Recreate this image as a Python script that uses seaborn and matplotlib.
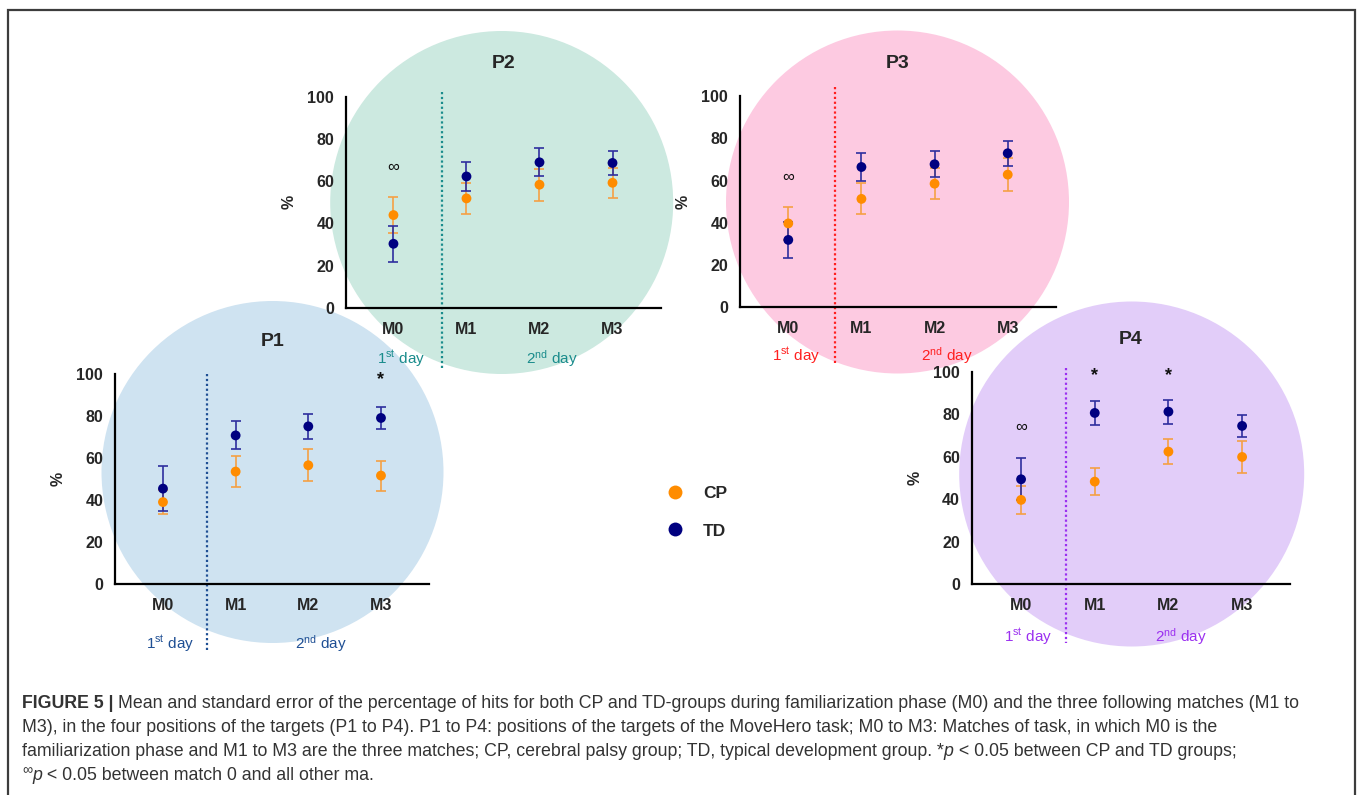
import numpy as np
import pandas as pd
import matplotlib
matplotlib.use("Agg")
import matplotlib.pyplot as plt
import seaborn as sns
from matplotlib.patches import Circle, Rectangle
from matplotlib.lines import Line2D

# ---------------- data ----------------
matches = ["M0", "M1", "M2", "M3"]
groups = ["CP", "TD"]

p1_cp_mean = [39.1, 53.6, 56.6, 51.7]
p1_cp_se = [5.8, 7.4, 7.5, 7.1]
p1_td_mean = [45.5, 70.8, 75.1, 79.1]
p1_td_se = [10.8, 6.7, 5.8, 5.2]

p2_cp_mean = [43.9, 51.8, 58.3, 59.2]
p2_cp_se = [8.5, 7.4, 7.6, 7.0]
p2_td_mean = [30.3, 62.2, 68.9, 68.6]
p2_td_se = [8.5, 6.7, 6.6, 5.8]

p3_cp_mean = [39.7, 51.3, 58.5, 62.8]
p3_cp_se = [8.0, 7.3, 7.3, 7.9]
p3_td_mean = [31.9, 66.4, 67.7, 72.9]
p3_td_se = [8.6, 6.8, 6.2, 6.0]

p4_cp_mean = [39.7, 48.3, 62.4, 59.9]
p4_cp_se = [6.7, 6.5, 6.0, 7.5]
p4_td_mean = [49.4, 80.6, 81.2, 74.5]
p4_td_se = [9.8, 5.7, 5.7, 5.3]

# significance marks: (panel, match, y)
inf_marks = [("P2", "M0", 66.4), ("P3", "M0", 61.7), ("P4", "M0", 73.7)]
star_marks = [("P1", "M3", 98.6), ("P4", "M1", 99.5), ("P4", "M2", 99.5)]

yticks = [0, 20, 40, 60, 80, 100]

caption_lines = [
    [("FIGURE 5 | ", "bold", "normal", 0),
     ("Mean and standard error of the percentage of hits for both CP and TD-groups during familiarization phase (M0) and the three following matches (M1 to", "normal", "normal", 0)],
    [("M3), in the four positions of the targets (P1 to P4). P1 to P4: positions of the targets of the MoveHero task; M0 to M3: Matches of task, in which M0 is the", "normal", "normal", 0)],
    [("familiarization phase and M1 to M3 are the three matches; CP, cerebral palsy group; TD, typical development group. *", "normal", "normal", 0),
     ("p", "normal", "italic", 0),
     (" < 0.05 between CP and TD groups;", "normal", "normal", 0)],
    [("\u221e", "normal", "normal", 1),
     ("p", "normal", "italic", 0),
     (" < 0.05 between match 0 and all other ma.", "normal", "normal", 0)],
]

rows = []
for pname, cpm, cps, tdm, tds in [
    ("P1", p1_cp_mean, p1_cp_se, p1_td_mean, p1_td_se),
    ("P2", p2_cp_mean, p2_cp_se, p2_td_mean, p2_td_se),
    ("P3", p3_cp_mean, p3_cp_se, p3_td_mean, p3_td_se),
    ("P4", p4_cp_mean, p4_cp_se, p4_td_mean, p4_td_se),
]:
    for i, m in enumerate(matches):
        rows.append(dict(panel=pname, match=m, xpos=i, group="CP", mean=cpm[i], se=cps[i]))
        rows.append(dict(panel=pname, match=m, xpos=i, group="TD", mean=tdm[i], se=tds[i]))
df = pd.DataFrame(rows)

# ---------------- style ----------------
sns.set_style("white")
plt.rcParams["font.family"] = ["Liberation Sans", "DejaVu Sans"]
plt.rcParams["mathtext.fontset"] = "custom"
plt.rcParams["mathtext.rm"] = "Liberation Sans"
plt.rcParams["mathtext.it"] = "Liberation Sans:italic"
plt.rcParams["mathtext.bf"] = "Liberation Sans:bold"

marker_col = {"CP": "#ff8c00", "TD": "#000080"}
err_col = {"CP": "#f5a044", "TD": "#2e2e9e"}

W, H = 1357, 795
fig = plt.figure(figsize=(W / 100, H / 100), dpi=100)
bg = fig.add_axes([0, 0, 1, 1])
bg.set_xlim(0, W)
bg.set_ylim(H, 0)
bg.axis("off")

# layout per panel (pixels)
layout = {
    "P1": dict(box=(115, 374, 429.3, 584.3), xlim=(-0.66, 3.665), div=0.60, dot=(100, -31.2),
               circ=(272.5, 472, 171), fill="#cfe3f1", acc="#1f4f94", day_dy=59),
    "P2": dict(box=(346, 96.7, 660.7, 307.7), xlim=(-0.65, 3.66), div=0.666, dot=(102.4, -28.6),
               circ=(501.7, 202.5, 171.5), fill="#cce9e0", acc="#1a8c8c", day_dy=51),
    "P3": dict(box=(740, 96, 1056, 307.3), xlim=(-0.66, 3.66), div=0.64, dot=(104.4, -26.2),
               circ=(897.5, 202, 171.5), fill="#fdcae1", acc="#ff1f1f", day_dy=48),
    "P4": dict(box=(971.7, 371.7, 1290, 584.3), xlim=(-0.67, 3.65), div=0.61, dot=(101.6, -27.8),
               circ=(1131.7, 474, 172.5), fill="#e2cdf9", acc="#9b30f0", day_dy=52),
}

for pname, L in layout.items():
    cx, cy, r = L["circ"]
    bg.add_patch(Circle((cx, cy), r, facecolor=L["fill"], edgecolor="none", zorder=0))

for pname, L in layout.items():
    l, t, rr, b = L["box"]
    ax = fig.add_axes([l / W, 1 - b / H, (rr - l) / W, (b - t) / H])
    ax.set_facecolor("none")
    sub = df[df.panel == pname]
    for g in groups:
        s = sub[sub.group == g]
        ax.errorbar(s.xpos, s["mean"], yerr=s.se, fmt="none", ecolor=err_col[g],
                    elinewidth=1.2, capsize=3.8, capthick=1.2, zorder=3 if g == "CP" else 4)
    sns.scatterplot(data=sub, x="xpos", y="mean", hue="group", hue_order=groups,
                    palette=marker_col, s=50, edgecolor="none", legend=False, ax=ax, zorder=5)
    ax.set_xlim(*L["xlim"])
    ax.set_ylim(0, 100)
    ax.set_yticks(yticks)
    ax.set_yticklabels([str(v) for v in yticks])
    ax.set_xticks(range(len(matches)))
    ax.set_xticklabels(matches)
    ax.set_xlabel("")
    ax.set_ylabel("")
    for sp in ["top", "right"]:
        ax.spines[sp].set_visible(False)
    for sp in ["left", "bottom"]:
        ax.spines[sp].set_color("black")
        ax.spines[sp].set_linewidth(1.6)
    ax.tick_params(axis="both", direction="out", length=6.5, width=1.4, color="black",
                   labelsize=11.5)
    ax.tick_params(axis="y", pad=2)
    ax.tick_params(axis="x", pad=3.5)
    for lab in ax.get_xticklabels() + ax.get_yticklabels():
        lab.set_fontweight("bold")
    hpx = b - t
    wpx = rr - l
    ax.text(0.5, 1 + 32.7 / hpx, pname, transform=ax.transAxes, ha="center", va="center",
            fontsize=14, fontweight="bold")
    ax.text(-56.5 / wpx, 0.5, "%", transform=ax.transAxes, ha="center", va="center",
            rotation=90, fontsize=11.5, fontweight="bold")
    ax.plot([L["div"], L["div"]], list(L["dot"]), color=L["acc"], ls=(0, (1, 1.2)), lw=1.6,
            clip_on=False, zorder=2)
    trans = matplotlib.transforms.blended_transform_factory(ax.transData, ax.transAxes)
    ax.text(0.1, -L["day_dy"] / hpx, r"1$^{\rm st}$ day", transform=trans, ha="center",
            va="center", fontsize=11, color=L["acc"])
    ax.text(2.17, -L["day_dy"] / hpx, r"2$^{\rm nd}$ day", transform=trans, ha="center",
            va="center", fontsize=11, color=L["acc"])
    for pn, m, yv in inf_marks:
        if pn == pname:
            ax.text(matches.index(m), yv, "\u221e", ha="center", va="center", fontsize=12,
                    color="#111111", zorder=6)
    for pn, m, yv in star_marks:
        if pn == pname:
            ax.text(matches.index(m), yv - 1.2, "*", ha="center", va="center", fontsize=13,
                    fontweight="bold", color="#111111", zorder=6, clip_on=False)

# legend
handles = [Line2D([], [], ls="none", marker="o", markersize=10, markerfacecolor=marker_col[g],
                  markeredgecolor="none", label=g) for g in groups]
leg = fig.legend(handles=handles, loc="upper left", bbox_to_anchor=(666.6 / W, 1 - 486 / H),
                 frameon=False, handlelength=1.0, handletextpad=1.1, labelspacing=1.28,
                 borderpad=0, borderaxespad=0, prop=dict(size=12.5, weight="bold"))

# border
fig.patches.append(Rectangle((8 / W, -0.05), (1355 - 8) / W, 1.05 - 10 / H, transform=fig.transFigure,
                             fill=False, edgecolor="#3c3c3c", linewidth=1.6))

# caption
fig.canvas.draw()
renderer = fig.canvas.get_renderer()
cap_family = ["Liberation Sans", "DejaVu Sans"]


def draw_line(x0, y0, runs, size, dry=False):
    x = x0
    made = []
    for txt, w, st, sup in runs:
        fs = size * (0.8 if sup else 1.0)
        yy = y0 - (6 if sup else 0)
        tt = fig.text(x / W, 1 - yy / H, txt, fontsize=fs, fontweight=w, fontstyle=st,
                      family=cap_family, va="baseline", ha="left", color="#333333")
        bb = tt.get_window_extent(renderer)
        x += bb.width
        made.append(tt)
    if dry:
        for tt in made:
            tt.remove()
    return x - x0


base = 11.0
wtest = draw_line(22, 700, caption_lines[0], base, dry=True)
size = base * (1302 - 22) / wtest
baselines = [708, 732, 756, 780]
for ln, yb in zip(caption_lines, baselines):
    draw_line(22, yb, ln, size)

fig.savefig("out.png", dpi=100)
